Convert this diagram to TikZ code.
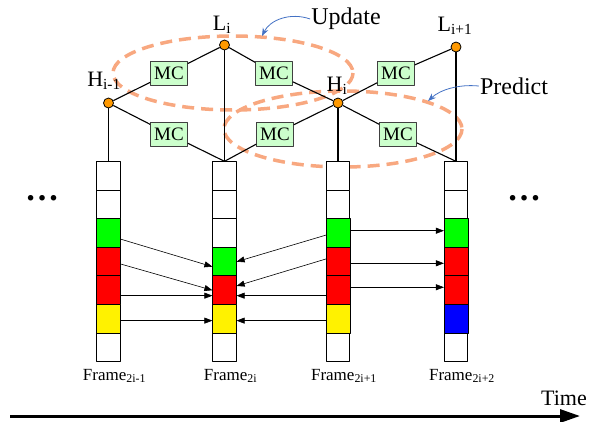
\documentclass[tikz,border=0pt]{standalone}
\usepackage{fontspec}
\setmainfont{Liberation Serif}
\usepackage{tikz}
\usetikzlibrary{arrows.meta,calc}
\usetikzlibrary{positioning}
\definecolor{mcgreen}{RGB}{204,255,204}
\definecolor{jointorange}{RGB}{255,153,0}
\definecolor{ringorange}{RGB}{248,168,128}
\definecolor{callblue}{RGB}{68,114,196}

\begin{document}
\begin{tikzpicture}[x=1pt,y=-1pt,>=Stealth,line join=round,
  cell/.style={draw,fill=white,minimum width=23.5pt,minimum height=28.6pt,inner sep=0pt,line width=0.7pt},
  mc/.style={draw=black!75,fill=mcgreen,minimum width=37pt,minimum height=24pt,inner sep=0pt,line width=0.7pt,font=\fontsize{19}{19}\selectfont},
  joint/.style={circle,draw,fill=jointorange,minimum size=10pt,inner sep=0pt,line width=0.8pt},
  lbl/.style={font=\fontsize{22}{22}\selectfont,inner sep=1pt},
  flbl/.style={font=\fontsize{17}{17}\selectfont,inner sep=1pt},
  ring/.style={draw=ringorange,line width=3.5pt,dash pattern=on 12pt off 7pt},
  call/.style={draw=callblue,line width=0.8pt,-{Stealth[length=8pt,width=6pt]}},
  mv/.style={line width=0.6pt,-{Triangle[length=8pt,width=6pt]}}]
\useasboundingbox (0,0) rectangle (591,421);
% --- update / predict rings
\draw[ring] (233,73) ellipse [x radius=120,y radius=37];
\draw[ring] (343,129) ellipse [x radius=119,y radius=38];
% --- frames
\foreach \c/\x in {1/108.5,2/224.5,3/338,4/456} {\foreach \r in {1,...,7} {\node[cell] (f\c-\r) at (\x,{147.4+28.57*\r}) {};}}
% macroblocks
\foreach \n/\col in {f1-3/green,f1-4/red,f1-5/red,f1-6/yellow,f2-4/green,f2-5/red,f2-6/yellow,f3-3/green,f3-4/red,f3-5/red,f3-6/yellow,f4-3/green,f4-4/red,f4-5/red,f4-6/blue} {\draw[fill=\col,line width=0.7pt] (\n.north west) rectangle (\n.south east);}
\node[flbl,below=6pt of f1-7,xshift=6pt] (n1) {Frame\textsubscript{2i-1}};
\node[flbl,below=6pt of f2-7,xshift=6pt] (n2) {Frame\textsubscript{2i}};
\node[flbl,below=6pt of f3-7,xshift=6pt] (n3) {Frame\textsubscript{2i+1}};
\node[flbl,below=6pt of f4-7,xshift=6pt] (n4) {Frame\textsubscript{2i+2}};
% --- lifting joints
\node[joint] (Hm) at (108.5,103) {};
\node[joint] (Li) at (224.5,45) {};
\node[joint] (Hi) at (338,103) {};
\node[joint] (Lp) at (456,47) {};
\node[lbl] (tHm) at (104,81) {H\textsubscript{i-1}};
\node[lbl] (tLi) at (222,25) {L\textsubscript{i}};
\node[lbl] (tHi) at (337,86) {H\textsubscript{i}};
\node[lbl] (tLp) at (455,26) {L\textsubscript{i+1}};
% motion compensation
\node[mc] (m1) at (169,73) {MC};
\node[mc] (m2) at (169,134) {MC};
\node[mc] (m3) at (274,73) {MC};
\node[mc] (m4) at (275,134) {MC};
\node[mc] (m5) at (396,73) {MC};
\node[mc] (m6) at (398,134) {MC};
\draw[line width=1.1pt] (Hm) -- (m1) -- (Li) (Hm) -- (m2) -- (f2-1.north) (Li) -- (m3) -- (Hi) (f2-1.north) -- (m4) -- (Hi) (Hi) -- (m5) -- (Lp) (Hi) -- (m6) -- (f4-1.north);
\draw[line width=1.1pt] (Hm) -- (f1-1) (Li) -- (f2-1) (Hi) -- (f3-1) (Lp) -- (f4-1);
% callouts
\node[lbl,font=\fontsize{24}{24}\selectfont] (upd) at (346,19) {Update};
\coordinate (updtip) at (262,36);
\draw[call] (upd.west) .. controls (290,12) and (270,20) .. (updtip);
\node[lbl,font=\fontsize{24}{24}\selectfont] (pred) at (514,86) {Predict};
\coordinate (predtip) at (428,101);
\draw[call] (pred.west) .. controls (458,84) and (440,90) .. (predtip);
% --- block motion between frames
\draw[mv] ([yshift=-6pt]f1-3.east) -- ([yshift=-5pt]f2-4.west);
\draw[mv] ([yshift=-2.3pt]f1-4.east) -- (f2-5.west);
\draw[mv] ([yshift=-5.4pt]f1-5.east) -- ([yshift=-5.4pt]f2-5.west);
\draw[mv] ([yshift=-1.8pt]f1-6.east) -- ([yshift=-1.8pt]f2-6.west);
\draw[mv] ([yshift=-2pt]f3-3.west) -- (f2-4.east);
\draw[mv] ([yshift=2.7pt]f3-4.west) -- ([yshift=4.3pt]f2-5.east);
\draw[mv] ([yshift=-5.4pt]f3-5.west) -- ([yshift=-5.4pt]f2-5.east);
\draw[mv] ([yshift=-1.8pt]f3-6.west) -- ([yshift=-1.8pt]f2-6.east);
\draw[mv] ([yshift=2.4pt]f3-3.east) -- ([yshift=2.4pt]f4-3.west);
\draw[mv] ([yshift=-1.6pt]f3-4.east) -- ([yshift=-1.6pt]f4-4.west);
\draw[mv] ([yshift=3pt]f3-5.east) -- ([yshift=3pt]f4-5.west);
% dots
\node[font=\fontsize{34}{34}\selectfont\bfseries,inner sep=0pt] (ldots) at (42,198) {…};
\node[font=\fontsize{34}{34}\selectfont\bfseries,inner sep=0pt] (rdots) at (524,198) {…};
% --- time axis
\coordinate (tA) at (10,416);
\coordinate (tB) at (580,416);
\draw[line width=3pt,-{Triangle[length=20pt,width=13pt]}] (tA) -- (tB);
\node[font=\fontsize{22}{22}\selectfont] (time) at (564,398) {Time};
\end{tikzpicture}
\end{document}
